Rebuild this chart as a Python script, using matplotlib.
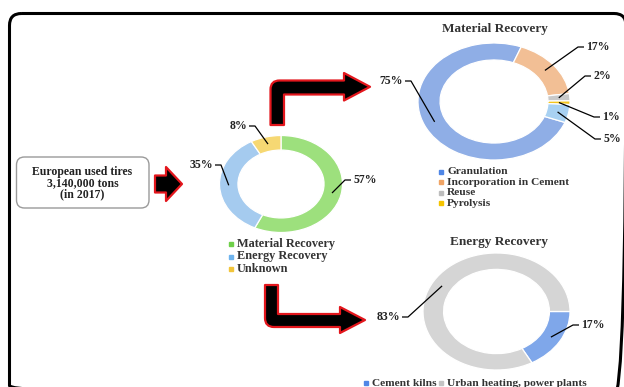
import numpy as np
import matplotlib
matplotlib.use("Agg")
import matplotlib.pyplot as plt
from matplotlib.patches import FancyBboxPatch, PathPatch
from matplotlib.path import Path

W, H = 624, 387

# ---- data -------------------------------------------------------------
main_labels = ["Material Recovery", "Energy Recovery", "Unknown"]
main_values = [57, 35, 8]
main_colors = ["#9DE07D", "#A5CBEF", "#F6D873"]
main_key_colors = ["#6FD04A", "#6FB4EE", "#F2C53A"]

mat_labels = ["Granulation", "Incorporation in Cement", "Reuse", "Pyrolysis", "Other"]
mat_values = [75, 17, 2, 1, 5]
mat_colors = ["#8FAEE6", "#F2BF95", "#C9C9C9", "#F3C51E", "#A8D1F2"]
mat_key_colors = ["#4F86E6", "#F0A465", "#BDBDBD", "#F5C400"]
mat_legend = mat_labels[:4]

energy_labels = ["Cement kilns", "Urban heating, power plants"]
energy_values = [17, 83]
energy_colors = ["#7FA7EA", "#D5D5D5"]
energy_key_colors = ["#4F86E6", "#C4C4C4"]

source_text = ["European used tires", "3,140,000 tons", "(in 2017)"]

SERIF = "Liberation Serif"
RED = "#E3161C"

fig = plt.figure(figsize=(W / 100, H / 100), dpi=100, facecolor="white")

# background canvas in pixel coordinates (y downward)
bg = fig.add_axes([0, 0, 1, 1])
bg.set_xlim(0, W)
bg.set_ylim(H, 0)
bg.axis("off")

# outer rounded frame (runs past the right and bottom edges)
bg.add_patch(FancyBboxPatch((9.5, 13.5), 616.5, 384,
                            boxstyle="round,pad=0,rounding_size=12",
                            fc="none", ec="black", lw=2.2, clip_on=True))

# source box
bg.add_patch(FancyBboxPatch((16.5, 157), 132.5, 51,
                            boxstyle="round,pad=0,rounding_size=8",
                            fc="white", ec="#9A9A9A", lw=1.0))


def arrow_patch(verts, codes):
    p = PathPatch(Path(verts, codes), fc="black", ec=RED, lw=1.6, joinstyle="round")
    bg.add_patch(p)


M, L, C, Z = Path.MOVETO, Path.LINETO, Path.CURVE3, Path.CLOSEPOLY

# straight arrow from the source box
arrow_patch([(155, 175.5), (166, 175.5), (166, 167), (182, 184), (166, 201),
             (166, 192.5), (155, 192.5), (155, 175.5)],
            [M, L, L, L, L, L, L, Z])

# elbow arrow up and right
R = 9
arrow_patch([(270.5, 125), (270.5, 80.5 + R), (270.5, 80.5), (270.5 + R, 80.5),
             (344, 80.5), (344, 73), (370, 86.8), (344, 100.5), (344, 94.5),
             (284, 94.5), (284, 125), (270.5, 125)],
            [M, L, C, C, L, L, L, L, L, L, L, Z])

# elbow arrow down and right
arrow_patch([(265, 285), (265, 327 - R), (265, 327), (265 + R, 327),
             (340, 327), (340, 333), (365, 320), (340, 307), (340, 314),
             (278, 314), (278, 285), (265, 285)],
            [M, L, C, C, L, L, L, L, L, L, L, Z])


def donut(cx, cy, rx, ry, values, colors, start, width):
    ax = fig.add_axes([(cx - rx) / W, 1 - (cy + ry) / H, 2 * rx / W, 2 * ry / H])
    wedges, _ = ax.pie(values, colors=colors, startangle=start, counterclock=False,
                       radius=1, wedgeprops=dict(width=width, edgecolor="white",
                                                 linewidth=0.9))
    ax.set_aspect("auto")
    ax.set_xlim(-1, 1)
    ax.set_ylim(-1, 1)
    ax.axis("off")
    return ax, wedges


ax_main, w_main = donut(281, 184, 61.5, 48.5, main_values, main_colors, 90, 0.30)
ax_mat, w_mat = donut(494, 101.5, 76, 58.5, mat_values, mat_colors, -21, 0.29)
ax_en, w_en = donut(496.5, 311.5, 73.5, 58.5, energy_values, energy_colors, 0, 0.28)

# overlay for labels and leader lines
top = fig.add_axes([0, 0, 1, 1])
top.set_xlim(0, W)
top.set_ylim(H, 0)
top.axis("off")
top.patch.set_alpha(0)


def ring_point(ax, wedge):
    ang = np.deg2rad((wedge.theta1 + wedge.theta2) / 2)
    r = wedge.r - wedge.width / 2
    disp = ax.transData.transform((r * np.cos(ang), r * np.sin(ang)))
    return top.transData.inverted().transform(disp)


def pct_label(ax, wedge, value, tx, ty, side):
    # side: 'l' text left of its leader, 'r' text right of its leader
    ha = "right" if side == "l" else "left"
    top.text(tx, ty, f"{value}%", ha=ha, va="center", fontsize=8.5,
             fontweight="bold", family=SERIF, color="#222222")
    px, py = ring_point(ax, wedge)
    sx = tx + 2 if side == "l" else tx - 2
    kx = sx + 6 if side == "l" else sx - 6
    top.plot([sx, kx, px], [ty, ty, py], color="black", lw=0.9,
             solid_capstyle="butt")


# main donut labels
pct_label(ax_main, w_main[0], main_values[0], 353, 180, "r")
pct_label(ax_main, w_main[1], main_values[1], 213, 165, "l")
pct_label(ax_main, w_main[2], main_values[2], 247, 126, "l")

# material recovery labels
pct_label(ax_mat, w_mat[0], mat_values[0], 403, 81, "l")
pct_label(ax_mat, w_mat[1], mat_values[1], 586, 47, "r")
pct_label(ax_mat, w_mat[2], mat_values[2], 593, 76, "r")
pct_label(ax_mat, w_mat[3], mat_values[3], 602, 117, "r")
pct_label(ax_mat, w_mat[4], mat_values[4], 603, 139, "r")

# energy recovery labels
pct_label(ax_en, w_en[1], energy_values[1], 400, 317, "l")
pct_label(ax_en, w_en[0], energy_values[0], 581, 325, "r")

# titles
top.text(495, 29, "Material Recovery", ha="center", va="center", fontsize=9.5,
         fontweight="bold", family=SERIF, color="#333333")
top.text(499, 242, "Energy Recovery", ha="center", va="center", fontsize=9.5,
         fontweight="bold", family=SERIF, color="#333333")

# source text
for i, line in enumerate(source_text):
    top.text(82.5, 172 + 11 * i, line, ha="center", va="center", fontsize=8.5,
             fontweight="bold", family=SERIF, color="#222222")


def legend_entry(x, y, label, color, size=8.5):
    top.plot([x], [y], marker="s", ms=3.0, color=color, mec=color)
    top.text(x + 6, y, label, ha="left", va="center", fontsize=size,
             fontweight="bold", family=SERIF, color="#333333")


for i, (lab, col) in enumerate(zip(main_labels, main_key_colors)):
    legend_entry(231, 244 + 12.5 * i, lab, col, 8.8)

for i, lab in enumerate(mat_legend):
    legend_entry(441, 172 + 10.4 * i, lab, mat_key_colors[i], 8.2)

legend_entry(366, 383, energy_labels[0], energy_key_colors[0], 8.2)
legend_entry(441, 383, energy_labels[1], energy_key_colors[1], 8.2)

fig.savefig("out.png", dpi=100, facecolor="white")
